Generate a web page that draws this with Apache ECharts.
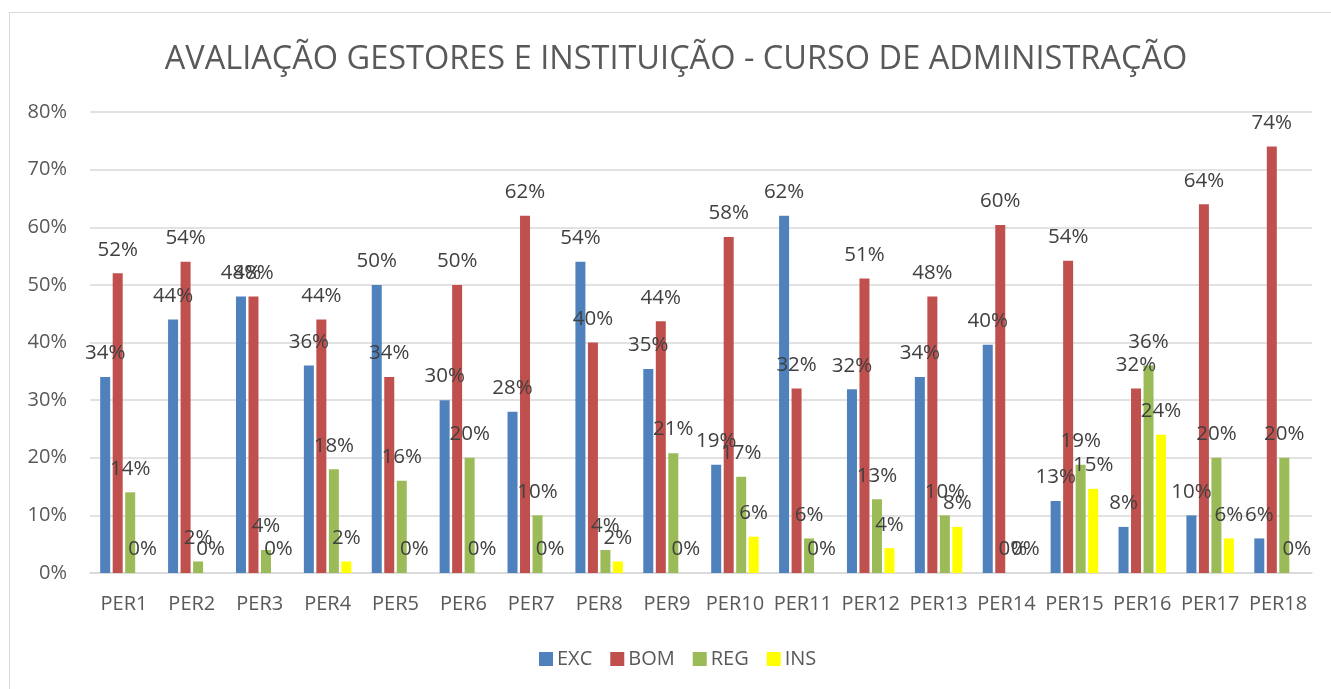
<!DOCTYPE html>
<html>
<head>
<meta charset="utf-8">
<script src="https://cdn.jsdelivr.net/npm/echarts@6/dist/echarts.min.js"></script>
<style>
html,body{margin:0;padding:0;background:#fff;}
#frame{position:absolute;left:9px;top:12px;width:1322px;height:677px;border-left:1.5px solid #d9d9d9;border-top:1.5px solid #d9d9d9;box-sizing:border-box;}
#chart{position:absolute;left:0;top:0;width:1331px;height:689px;}
</style>
</head>
<body>
<div id="frame"></div>
<div id="chart"></div>
<script>
const categories = ['PER1','PER2','PER3','PER4','PER5','PER6','PER7','PER8','PER9','PER10','PER11','PER12','PER13','PER14','PER15','PER16','PER17','PER18'];
const excValues = [34, 44, 48, 36, 50, 30, 28, 54, 35.4, 18.8, 62, 31.9, 34, 39.6, 12.5, 8, 10, 6];
const bomValues = [52, 54, 48, 44, 34, 50, 62, 40, 43.7, 58.3, 32, 51.1, 48, 60.4, 54.2, 32, 64, 74];
const regValues = [14, 2, 4, 18, 16, 20, 10, 4, 20.8, 16.7, 6, 12.8, 10, 0, 18.8, 36, 20, 20];
const insValues = [0, 0, 0, 2, 0, 0, 0, 2, 0, 6.3, 0, 4.3, 8, 0, 14.6, 24, 6, 0];
const yTicks = [0, 10, 20, 30, 40, 50, 60, 70, 80];

const FONT = 'Open Sans';
const chart = echarts.init(document.getElementById('chart'), null, {renderer: 'canvas'});

function mkSeries(name, data, color) {
  return {
    name: name,
    type: 'bar',
    data: data,
    barWidth: 10,
    barGap: '25%',
    itemStyle: {color: color},
    label: {
      show: true,
      position: 'top',
      distance: 13,
      color: '#404040',
      fontFamily: FONT,
      fontSize: 20.5,
      formatter: p => Math.round(p.value) + '%'
    },
    emphasis: {disabled: true}
  };
}

chart.setOption({
  animation: false,
  title: {
    text: 'AVALIAÇÃO GESTORES E INSTITUIÇÃO - CURSO DE ADMINISTRAÇÃO',
    left: 671,
    textAlign: 'center',
    top: 38,
    textStyle: {color: '#595959', fontFamily: FONT, fontSize: 32.5, fontWeight: 'normal'}
  },
  legend: {
    bottom: 15,
    left: 534,
    itemWidth: 14,
    itemHeight: 14,
    itemGap: 18,
    icon: 'rect',
    textStyle: {color: '#595959', fontFamily: FONT, fontSize: 20, padding: [0, 0, 0, -1]},
    data: ['EXC', 'BOM', 'REG', 'INS']
  },
  grid: {left: 90, right: 19, top: 112, bottom: 116, containLabel: false},
  xAxis: {
    type: 'category',
    data: categories,
    axisLine: {show: true, lineStyle: {color: '#d9d9d9', width: 1.5}},
    axisTick: {show: false},
    axisLabel: {color: '#595959', fontFamily: FONT, fontSize: 20, margin: 21, interval: 0}
  },
  yAxis: {
    type: 'value',
    min: yTicks[0],
    max: yTicks[yTicks.length - 1],
    interval: 10,
    axisLine: {show: false},
    axisTick: {show: false},
    splitLine: {lineStyle: {color: '#d9d9d9', width: 1.5}},
    axisLabel: {color: '#595959', fontFamily: FONT, fontSize: 20, margin: 23, formatter: '{value}%'}
  },
  series: [
    mkSeries('EXC', excValues, '#4F81BD'),
    mkSeries('BOM', bomValues, '#C0504D'),
    mkSeries('REG', regValues, '#9BBB59'),
    mkSeries('INS', insValues, '#FFFF00')
  ]
});
</script>
</body>
</html>
